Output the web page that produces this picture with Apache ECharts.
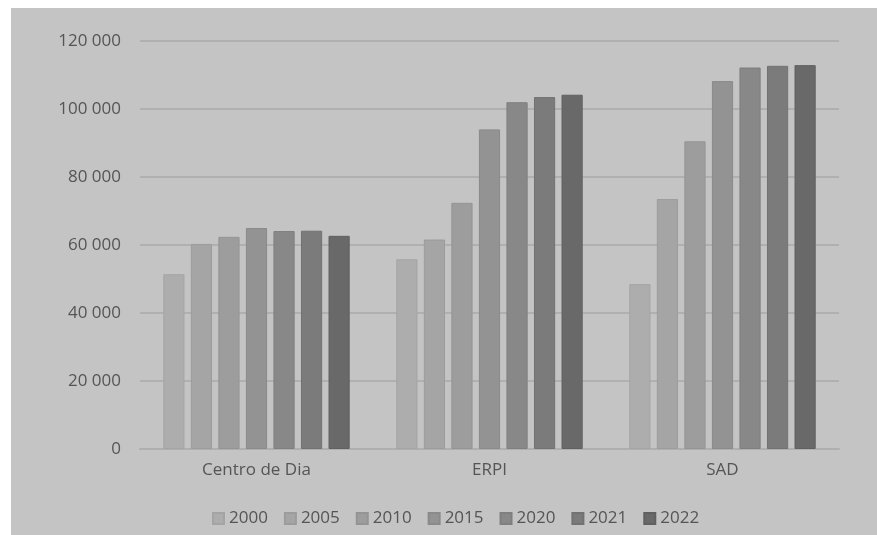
<!DOCTYPE html>
<html>
<head>
<meta charset="utf-8">
<script src="https://cdn.jsdelivr.net/npm/echarts@6/dist/echarts.min.js"></script>
<style>
html,body{margin:0;padding:0;background:#ffffff;}
#wrap{position:relative;width:877px;height:535px;background:#ffffff;overflow:hidden;}
#chart{position:absolute;left:11px;top:8px;width:866px;height:527px;background:#c4c4c4;}
</style>
</head>
<body>
<div id="wrap"><div id="chart"></div></div>
<script>
const categories = ["Centro de Dia", "ERPI", "SAD"];
const years = ["2000", "2005", "2010", "2015", "2020", "2021", "2022"];
const v2000 = [51400, 55800, 48500];
const v2005 = [60300, 61600, 73500];
const v2010 = [62400, 72400, 90500];
const v2015 = [65000, 94000, 108200];
const v2020 = [64100, 102000, 112200];
const v2021 = [64200, 103500, 112700];
const v2022 = [62700, 104200, 112900];
const seriesValues = [v2000, v2005, v2010, v2015, v2020, v2021, v2022];
const yTicks = [0, 20000, 40000, 60000, 80000, 100000, 120000];

const colors = ["#adadad", "#a5a5a5", "#9d9d9d", "#939393", "#888888", "#7b7b7b", "#696969"];
const borders = ["#a4a4a4", "#9c9c9c", "#949494", "#8a8a8a", "#7f7f7f", "#727272", "#606060"];

const chart = echarts.init(document.getElementById('chart'), null, {renderer: 'canvas'});
const font = "'Open Sans', 'Noto Sans', sans-serif";
const option = {
  backgroundColor: '#c4c4c4',
  animation: false,
  grid: {left: 129, right: 38, top: 33, bottom: 86, containLabel: false},
  legend: {
    bottom: 3,
    left: 196,
    itemWidth: 11,
    itemHeight: 11,
    itemGap: 16,
    icon: 'rect',
    textStyle: {color: '#555555', fontSize: 17, fontFamily: font},
    data: years
  },
  xAxis: {
    type: 'category',
    data: categories,
    axisLine: {lineStyle: {color: '#afafaf', width: 2}},
    axisTick: {show: false},
    axisLabel: {color: '#555555', fontSize: 17, fontFamily: font, margin: 13}
  },
  yAxis: {
    type: 'value',
    min: yTicks[0],
    max: yTicks[yTicks.length - 1],
    interval: yTicks[1] - yTicks[0],
    axisLine: {show: false},
    axisTick: {show: false},
    splitLine: {lineStyle: {color: '#b0b0b0', width: 2}},
    axisLabel: {
      color: '#555555', fontSize: 17, fontFamily: font, margin: 19,
      formatter: function (v) { return String(v).replace(/\B(?=(\d{3})+(?!\d))/g, ' '); }
    }
  },
  series: years.map(function (y, i) {
    return {
      name: y,
      type: 'bar',
      data: seriesValues[i],
      barGap: '30%',
      barCategoryGap: '20%',
      itemStyle: {color: colors[i], borderColor: borders[i], borderWidth: 1}
    };
  })
};
chart.setOption(option);
</script>
</body>
</html>
